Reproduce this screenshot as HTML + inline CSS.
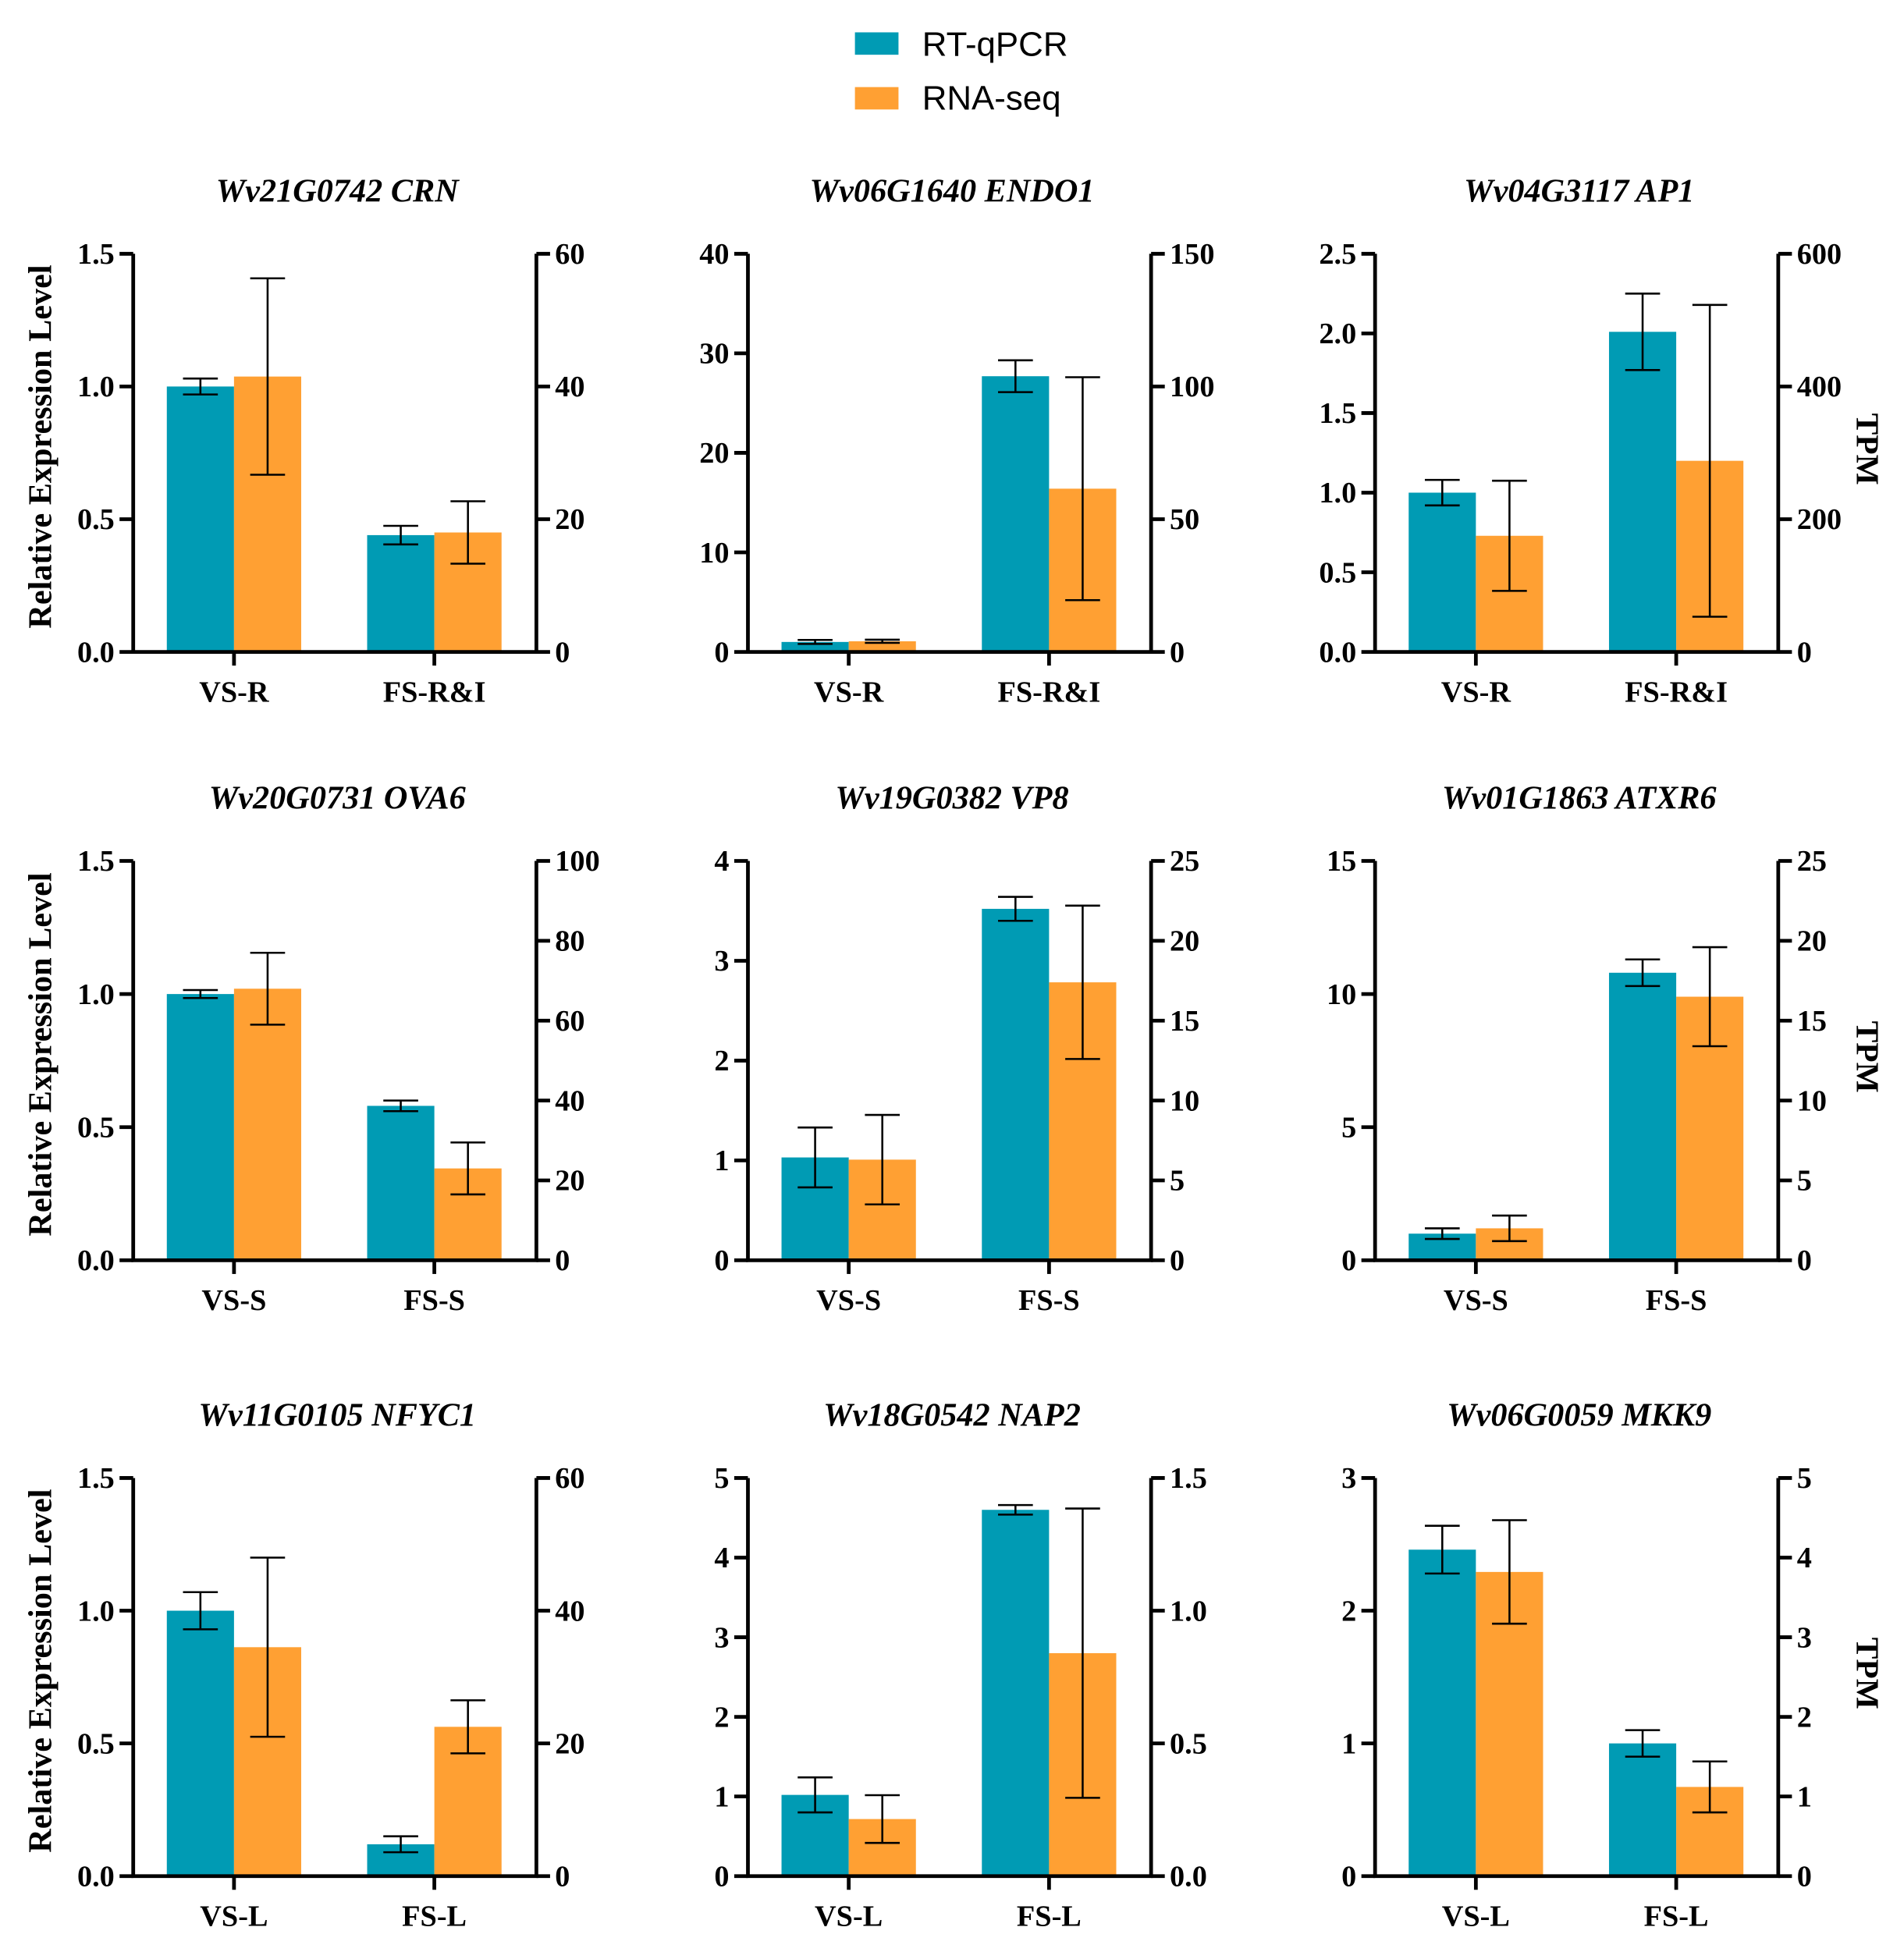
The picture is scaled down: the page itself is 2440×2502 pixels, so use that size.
<!DOCTYPE html>
<html><head><meta charset="utf-8"><style>
html,body{margin:0;padding:0;background:#fff}
svg{display:block}
text{font-family:"Liberation Serif",serif;font-weight:bold;fill:#000}
</style></head><body>
<svg id="fig" xmlns="http://www.w3.org/2000/svg" width="2440" height="2502" viewBox="0 0 1530 1569">
<g>
<rect x="687" y="26" width="35" height="18" fill="#009bb4"/>
<text x="741" y="45" style="font-family:'Liberation Sans',sans-serif;font-weight:normal;font-size:27.5px">RT-qPCR</text>
<rect x="687" y="70" width="35" height="18" fill="#ffa033"/>
<text x="741" y="88" style="font-family:'Liberation Sans',sans-serif;font-weight:normal;font-size:27.5px">RNA-seq</text>
</g>
</svg>
<script>
const titles=["Wv21G0742 CRN","Wv06G1640 ENDO1","Wv04G3117 AP1","Wv20G0731 OVA6","Wv19G0382 VP8","Wv01G1863 ATXR6","Wv11G0105 NFYC1","Wv18G0542 NAP2","Wv06G0059 MKK9"];
const categories=[["VS-R","FS-R&I"],["VS-R","FS-R&I"],["VS-R","FS-R&I"],["VS-S","FS-S"],["VS-S","FS-S"],["VS-S","FS-S"],["VS-L","FS-L"],["VS-L","FS-L"],["VS-L","FS-L"]];
const qpcrValues=[[1.0,0.44],[1.0,27.7],[1.0,2.01],[1.0,0.58],[1.03,3.52],[1.0,10.8],[1.0,0.12],[1.02,4.6],[2.46,1.0]];
const qpcrErrors=[[0.03,0.035],[0.2,1.6],[0.08,0.24],[0.015,0.02],[0.3,0.12],[0.2,0.5],[0.07,0.03],[0.22,0.06],[0.18,0.1]];
const seqValues=[[41.5,18],[4,61.5],[175,288],[68,23],[6.3,17.4],[2.0,16.5],[34.5,22.5],[0.215,0.84],[3.82,1.12]];
const seqErrors=[[14.8,4.7],[0.6,42],[83,235],[9,6.5],[2.8,4.8],[0.8,3.1],[13.5,4],[0.09,0.545],[0.65,0.32]];
const leftTicks=[["0.0","0.5","1.0","1.5"],["0","10","20","30","40"],["0.0","0.5","1.0","1.5","2.0","2.5"],["0.0","0.5","1.0","1.5"],["0","1","2","3","4"],["0","5","10","15"],["0.0","0.5","1.0","1.5"],["0","1","2","3","4","5"],["0","1","2","3"]];
const rightTicks=[["0","20","40","60"],["0","50","100","150"],["0","200","400","600"],["0","20","40","60","80","100"],["0","5","10","15","20","25"],["0","5","10","15","20","25"],["0","20","40","60"],["0.0","0.5","1.0","1.5"],["0","1","2","3","4","5"]];

const NS="http://www.w3.org/2000/svg";
const svg=document.getElementById('fig');
const colX=[107,601,1105];
const rowY=[[204,524],[692,1013],[1188,1508]];
function mk(tag,attrs,parent){const e=document.createElementNS(NS,tag);for(const k in attrs)e.setAttribute(k,attrs[k]);parent.appendChild(e);return e;}
for(let p=0;p<9;p++){
  const L=colX[p%3],R=L+324,top=rowY[Math.floor(p/3)][0],base=rowY[Math.floor(p/3)][1];
  const g=mk('g',{},svg);
  
  
  const lt=leftTicks[p],rt=rightTicks[p];
  const lmax=parseFloat(lt[lt.length-1]),rmax=parseFloat(rt[rt.length-1]);
  const yl=v=>base-(v/lmax)*(base-top);
  const yr=v=>base-(v/rmax)*(base-top);
  const t=mk('text',{x:(L+R)/2+2,y:top-42,'text-anchor':'middle','font-size':'26.5','font-style':'italic'},g);
  t.textContent=titles[p];
  
  
  for(let c=0;c<2;c++){
    const x0=L+27+c*161;
    const qv=qpcrValues[p][c],qe=qpcrErrors[p][c],sv=seqValues[p][c],se=seqErrors[p][c];
    const b1=mk('rect',{x:x0,y:yl(qv),width:54,height:base-yl(qv),fill:'#009bb4'},g);
    
    
    const b2=mk('rect',{x:x0+54,y:yr(sv),width:54,height:base-yr(sv),fill:'#ffa033'},g);
    
    
    const errs=[[x0+27,yl(qv+qe),yl(Math.max(0,qv-qe))],[x0+81,yr(sv+se),yr(Math.max(0,sv-se))]];
    errs.forEach(([cx,a,b])=>{
      const eg=mk('g',{stroke:'#000','stroke-width':'1.6',fill:'none'},g);
      
      
      mk('line',{x1:cx,x2:cx,y1:a,y2:b},eg);
      mk('line',{x1:cx-14,x2:cx+14,y1:a,y2:a},eg);
      mk('line',{x1:cx-14,x2:cx+14,y1:b,y2:b},eg);
    });
    const cxm=L+81+c*161;
    mk('line',{x1:cxm,x2:cxm,y1:base,y2:base+11,stroke:'#000','stroke-width':'3'},g);
    const xl=mk('text',{x:cxm,y:base+40,'text-anchor':'middle','font-size':'24'},g);
    xl.textContent=categories[p][c];
    
    
  }
  const ax=mk('path',{d:`M${L},${top} V${base} H${R} V${top}`,stroke:'#000','stroke-width':'3',fill:'none'},g);
  
  
  lt.forEach(s=>{const y=yl(parseFloat(s));
    mk('line',{x1:L-11,x2:L,y1:y,y2:y,stroke:'#000','stroke-width':'3'},g);
    const tx=mk('text',{x:L-15,y:y+8,'text-anchor':'end','font-size':'24'},g);tx.textContent=s;
    
    });
  rt.forEach(s=>{const y=yr(parseFloat(s));
    mk('line',{x1:R,x2:R+11,y1:y,y2:y,stroke:'#000','stroke-width':'3'},g);
    const tx=mk('text',{x:R+15,y:y+8,'text-anchor':'start','font-size':'24'},g);tx.textContent=s;
    
    });
  if(p%3===0){
    const yt=mk('text',{x:0,y:0,'text-anchor':'middle','font-size':'26.5',transform:`translate(41,${(top+base)/2-5}) rotate(-90)`},g);
    yt.textContent='Relative Expression Level';
    
    
  }
  if(p%3===2){
    const yt=mk('text',{x:0,y:0,'text-anchor':'middle','font-size':'26',transform:`translate(1492,${(top+base)/2-3}) rotate(90)`},g);
    yt.textContent='TPM';
    
    
  }
}
</script>
</body></html>
